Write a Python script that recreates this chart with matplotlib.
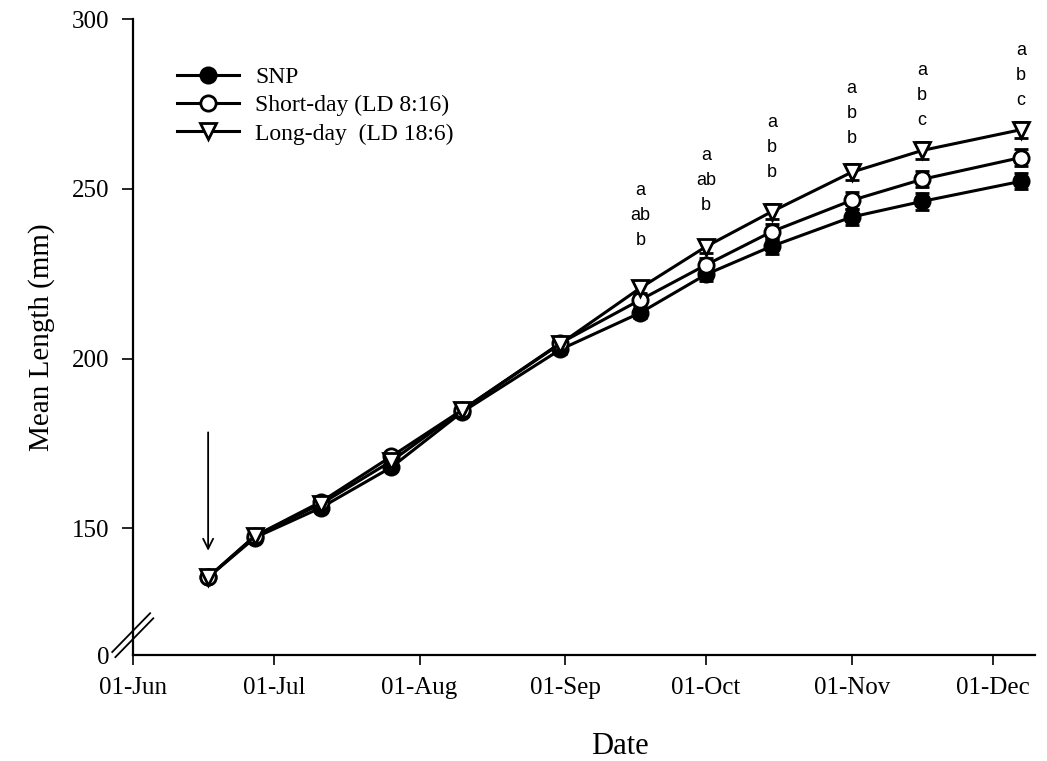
import datetime as dt
import matplotlib
matplotlib.use('Agg')
import matplotlib.pyplot as plt
import matplotlib.dates as mdates

# sampling dates and mean length (mm)
sample_dates = ['1994-06-17', '1994-06-27', '1994-07-11', '1994-07-26', '1994-08-10', '1994-08-31',
                '1994-09-17', '1994-10-01', '1994-10-15', '1994-11-01', '1994-11-16', '1994-12-07']
snp = [135.6, 147.3, 156.1, 168.0, 184.2, 202.7, 213.5, 224.8, 233.1, 241.7, 246.3, 252.2]
short_day = [135.6, 147.8, 157.8, 171.2, 184.8, 204.6, 217.3, 227.6, 237.4, 246.6, 252.8, 259.2]
long_day = [135.6, 147.8, 157.2, 169.8, 184.8, 204.4, 220.8, 233.0, 243.3, 254.9, 261.3, 267.4]
snp_se = [0.8, 0.8, 1.0, 1.0, 1.2, 1.4, 1.6, 2.0, 2.2, 2.4, 2.4, 2.4]
short_se = [0.8, 0.8, 1.0, 1.0, 1.2, 1.4, 1.6, 2.0, 2.2, 2.4, 2.4, 2.4]
long_se = [0.8, 0.8, 1.0, 1.0, 1.2, 1.4, 1.6, 2.0, 2.2, 2.4, 2.4, 2.4]

# significance letters (as printed, top to bottom)
sig_dates = ['1994-09-17', '1994-10-01', '1994-10-15', '1994-11-01', '1994-11-16', '1994-12-07']
sig_letters = [['a', 'ab', 'b'], ['a', 'ab', 'b'], ['a', 'b', 'b'],
               ['a', 'b', 'b'], ['a', 'b', 'c'], ['a', 'b', 'c']]

labels = ['SNP', 'Short-day (LD 8:16)', 'Long-day  (LD 18:6)']
ytick_vals = [150, 200, 250, 300]
month_ticks = ['1994-06-01', '1994-07-01', '1994-08-01', '1994-09-01',
               '1994-10-01', '1994-11-01', '1994-12-01']

plt.rcParams['font.family'] = ['Liberation Serif', 'DejaVu Serif']

x = [dt.date.fromisoformat(s) for s in sample_dates]

fig = plt.figure(figsize=(10.47, 7.61), dpi=100)
ax = fig.add_axes([0.127, 0.139, 0.8615, 0.836])

ybase = 112.65  # where the broken axis shows "0"

styles = [dict(marker='o', mfc='black'),
          dict(marker='o', mfc='white'),
          dict(marker='v', mfc='white')]
for vals, se, st, lab in zip([snp, short_day, long_day], [snp_se, short_se, long_se], styles, labels):
    ax.errorbar(x, vals, yerr=se, fmt='none', ecolor='black', elinewidth=1.5, capsize=5, capthick=2, zorder=2)
    ax.plot(x, vals, color='black', lw=2.2, marker=st['marker'], mfc=st['mfc'], mec='black',
            mew=2, ms=11, label=lab, zorder=3)

# arrow marking start of treatment
ax.annotate('', xy=(x[0], long_day[0] + 7), xytext=(x[0], long_day[0] + 43.5),
            arrowprops=dict(arrowstyle='->', lw=1.3, color='black', mutation_scale=18))

# significance letters above long-day points
gaps = [34.5, 29.5, 28, 24.5, 21.6, 21]
idx = [sample_dates.index(d) for d in sig_dates]
for i, letters, g in zip(idx, sig_letters, gaps):
    for k, let in enumerate(reversed(letters)):
        ax.annotate(let, xy=(x[i], long_day[i]), xytext=(0, g + 18 * k), textcoords='offset points',
                    ha='center', va='center', fontsize=13, family=['Liberation Sans', 'DejaVu Sans'])

ax.set_xlim(dt.date(1994, 6, 1), dt.date(1994, 6, 1) + dt.timedelta(days=192.2))
ax.set_ylim(ybase, 300)
ax.set_xticks([dt.date.fromisoformat(s) for s in month_ticks])
ax.xaxis.set_major_formatter(mdates.DateFormatter('%d-%b'))
ax.set_yticks([ybase] + ytick_vals)
ax.set_yticklabels(['0'] + [str(v) for v in ytick_vals])
ax.yaxis.get_major_ticks()[0].tick1line.set_visible(False)

for s in ['top', 'right']:
    ax.spines[s].set_visible(False)
for s in ['left', 'bottom']:
    ax.spines[s].set_linewidth(1.6)
ax.tick_params(axis='y', direction='out', length=8, width=1.2, pad=9, labelsize=18)
ax.tick_params(axis='x', direction='out', length=7, width=1.2, pad=9, labelsize=18)

ax.set_xlabel('Date', fontsize=22)
ax.xaxis.set_label_coords(0.54, -0.12)
ax.set_ylabel('Mean Length (mm)', fontsize=21, labelpad=12)

# axis break marks (double slash)
for dx, dy in ((0.0, 0.0), (0.0035, -0.008)):
    ax.plot([-0.023 + dx, 0.019 + dx], [0.005 + dy, 0.066 + dy], transform=ax.transAxes,
            color='black', lw=1.3, clip_on=False)

ax.legend(loc='upper left', bbox_to_anchor=(0.049, 0.925), frameon=False, fontsize=17,
          handlelength=2.6, handletextpad=0.7, labelspacing=0.28, borderpad=0, borderaxespad=0)

fig.savefig('out.png', dpi=100)
